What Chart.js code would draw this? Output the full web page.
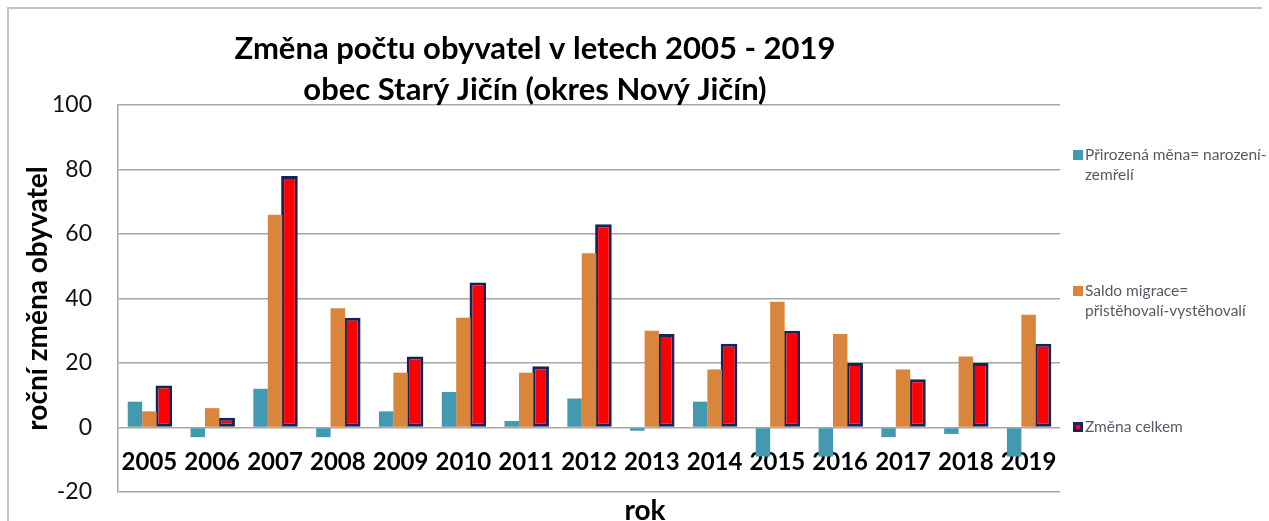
<!DOCTYPE html>
<html>
<head>
<meta charset="utf-8">
<script src="https://cdn.jsdelivr.net/npm/chart.js@4/dist/chart.umd.min.js"></script>
<style>
  html, body { margin: 0; padding: 0; background: #fff; }
  #wrap { position: relative; width: 1269px; height: 521px; overflow: hidden; }
  #frame { position: absolute; left: 7px; top: 7px; width: 1253px; height: 600px;
           border-top: 2px solid #c4c4c4; border-left: 2px solid #c4c4c4; pointer-events: none; }
</style>
</head>
<body>
<div id="wrap">
  <canvas id="c" width="1269" height="521"></canvas>
  <div id="frame"></div>
</div>
<script>
const years = ['2005','2006','2007','2008','2009','2010','2011','2012','2013','2014','2015','2016','2017','2018','2019'];
const prirozenaMena = [8, -3, 12, -3, 5, 11, 2, 9, -1, 8, -9, -9, -3, -2, -9];
const saldoMigrace = [5, 6, 66, 37, 17, 34, 17, 54, 30, 18, 39, 29, 18, 22, 35];
const zmenaCelkem = [13, 3, 78, 34, 22, 45, 19, 63, 29, 26, 30, 20, 15, 20, 26];
const seriesNames = ['Přirozená měna= narození-zemřelí', 'Saldo migrace= přistěhovalí-vystěhovalí', 'Změna celkem'];
const legendLines = [['Přirozená měna= narození-', 'zemřelí'], ['Saldo migrace=', 'přistěhovalí-vystěhovalí'], ['Změna celkem']];
const titleLines = ['Změna počtu obyvatel v letech 2005 - 2019', 'obec Starý Jičín (okres Nový Jičín)'];
const yAxisTitle = 'roční změna obyvatel';
const xAxisTitle = 'rok';

const TEAL = '#4399b0';
const ORANGE = '#d9853b';
const RED = '#ff0000';
const NAVY = '#16245e';
const GRID = '#a8a8a8';

const boxShift = {
  id: 'boxShift',
  afterLayout(chart) {
    chart.boxes.forEach(b => {
      if (b.options && b.options.text === titleLines) { b.left = 0; b.right = 1070; }
      if (b.options && b.options.text === xAxisTitle) { b.left = 0; b.right = 1290; }
    });
  }
};

const sideLegend = {
  id: 'sideLegend',
  afterDraw(chart, args, opts) {
    const ctx = chart.ctx;
    const colors = [TEAL, ORANGE, RED];
    ctx.save();
    ctx.font = '15.5px Lato';
    ctx.textBaseline = 'middle';
    ctx.textAlign = 'left';
    opts.lines.forEach((lines, i) => {
      const y = opts.ys[i];
      const bx = opts.x;
      if (i === 2) {
        ctx.fillStyle = NAVY;
        ctx.fillRect(bx, y - 5, 10, 10);
        ctx.fillStyle = RED;
        ctx.fillRect(bx + 3, y - 2, 4, 4);
      } else {
        ctx.fillStyle = colors[i];
        ctx.fillRect(bx, y - 5, 10, 10);
      }
      ctx.fillStyle = '#555a66';
      lines.forEach((t, k) => ctx.fillText(t, bx + 12, y + k * 20));
    });
    ctx.restore();
  }
};

new Chart(document.getElementById('c'), {
  type: 'bar',
  data: {
    labels: years,
    datasets: [
      { label: seriesNames[0], data: prirozenaMena, backgroundColor: TEAL, borderWidth: 0,
        categoryPercentage: 0.69, barPercentage: 1.0 },
      { label: seriesNames[1], data: saldoMigrace, backgroundColor: ORANGE, borderWidth: 0,
        categoryPercentage: 0.69, barPercentage: 1.0 },
      { label: seriesNames[2], data: zmenaCelkem, backgroundColor: RED, borderColor: NAVY, borderWidth: 3,
        borderSkipped: false, categoryPercentage: 0.69, barPercentage: 1.15 }
    ]
  },
  options: {
    responsive: false,
    animation: false,
    layout: { padding: { left: 0, right: 209, top: 0, bottom: 0 } },
    plugins: {
      legend: { display: false },
      tooltip: { enabled: false },
      title: {
        display: true,
        text: titleLines,
        color: '#000',
        font: { family: 'Lato', size: 31, weight: 'bold', lineHeight: '41px' },
        padding: { top: 28, bottom: -5 }
      },
      subtitle: {
        display: true,
        position: 'bottom',
        text: xAxisTitle,
        color: '#000',
        font: { family: 'Lato', size: 28, weight: 'bold', lineHeight: '29px' },
        padding: { top: 4, bottom: -4 }
      },
      sideLegend: { x: 1073, ys: [155, 291, 427], lines: legendLines }
    },
    scales: {
      x: {
        position: { y: 0 },
        z: 1,
        grid: { display: false, drawTicks: false },
        border: { display: false },
        ticks: { color: '#000', padding: 20, maxRotation: 0, autoSkip: false,
                 font: { family: 'Lato', size: 24, weight: 'bold' } }
      },
      y: {
        min: -20, max: 100,
        afterFit(s) { s.width = 118; },
        grid: { color: GRID, lineWidth: 1.5, drawTicks: true, tickLength: 26, tickColor: 'rgba(0,0,0,0)' },
        border: { display: true, color: GRID, width: 1.5 },
        ticks: { stepSize: 20, color: '#111', padding: 0, font: { family: 'Lato', size: 23 } },
        title: { display: true, text: yAxisTitle, color: '#000', padding: { top: 21, bottom: 0 },
                 font: { family: 'Lato', size: 28, weight: 'bold', lineHeight: 1.2 } }
      }
    }
  },
  plugins: [boxShift, sideLegend]
});
</script>
</body>
</html>
